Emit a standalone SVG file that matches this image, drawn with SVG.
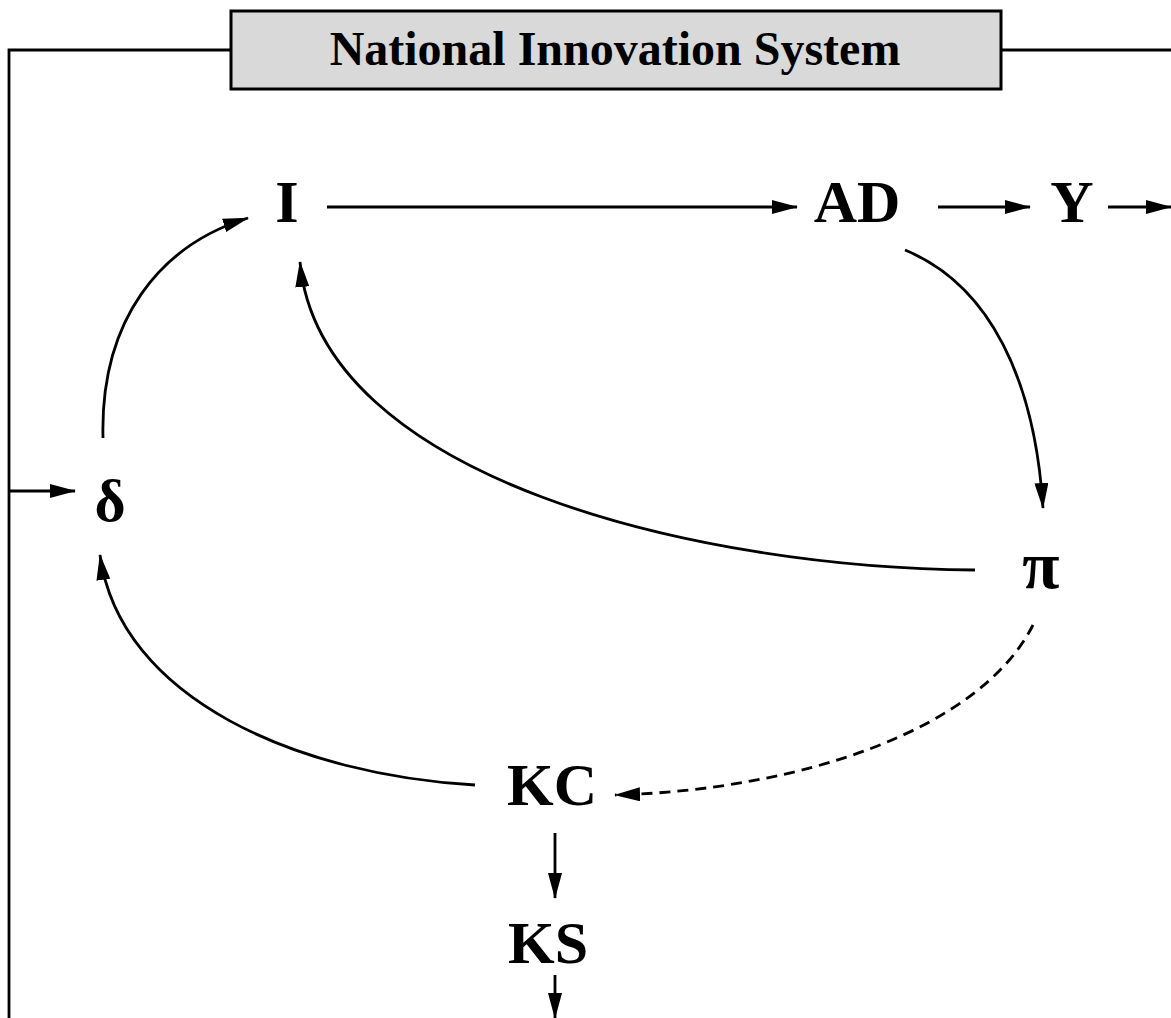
<svg xmlns="http://www.w3.org/2000/svg" width="1171" height="1018" viewBox="0 0 1171 1018">
<defs>
<marker id="ah" viewBox="0 0 26 14" refX="25" refY="7" markerWidth="26" markerHeight="14" markerUnits="userSpaceOnUse" orient="auto">
<path d="M0,0 L26,7 L0,14 Z" fill="#000"/>
</marker>
<style>
.lbl{font-family:"Liberation Serif","Times New Roman",serif;font-weight:bold;font-size:60px;fill:#000;text-anchor:middle}
.c{fill:none;stroke:#000;stroke-width:2.8;marker-end:url(#ah)}
.f{fill:none;stroke:#000;stroke-width:2.8}
</style>
</defs>
<rect width="1171" height="1018" fill="#fff"/>
<g id="frame">
<path class="f" d="M231,50 H9 V1018"/>
<path class="f" d="M1001,50 H1171"/>
</g>
<g id="title">
<rect x="231" y="11" width="770" height="78" fill="#d9d9d9" stroke="#000" stroke-width="3"/>
<text x="615" y="65" font-family="Liberation Serif,serif" font-weight="bold" font-size="48" text-anchor="middle">National Innovation System</text>
</g>
<g id="node-I"><text class="lbl" x="287" y="222">I</text></g>
<g id="node-AD"><text class="lbl" x="857" y="222">AD</text></g>
<g id="node-Y"><text class="lbl" x="1072" y="222">Y</text></g>
<g id="node-delta"><text class="lbl" x="110" y="521">δ</text></g>
<g id="node-pi"><text class="lbl" x="1041" y="588" style="font-size:68px">π</text></g>
<g id="node-KC"><text class="lbl" x="552" y="805">KC</text></g>
<g id="node-KS"><text class="lbl" x="548" y="963">KS</text></g>
<g id="connectors">
<path class="c" d="M9,491 H75"/>
<path class="c" d="M327,207 H797"/>
<path class="c" d="M938,207 H1030"/>
<path class="c" d="M1108,207 H1171"/>
<path class="c" d="M103,438 C100,320 160,245 248,218"/>
<path class="c" d="M905,250 C990,285 1035,380 1043,508"/>
<path class="c" d="M975,570 C700,568 320,480 300,262"/>
<path class="c" d="M475,785 C300,775 120,700 100,555"/>
<path class="c" d="M1033,625 C980,730 800,790 615,795" stroke-dasharray="11,7"/>
<path class="c" d="M555,833 V898"/>
<path class="c" d="M555,975 V1018"/>
</g>
</svg>
